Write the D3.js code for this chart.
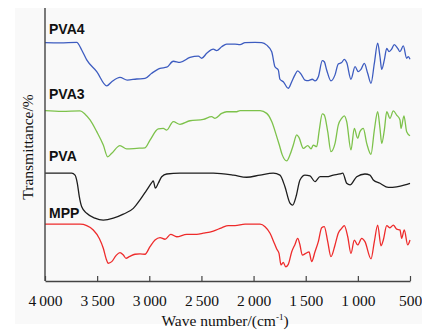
<!DOCTYPE html>
<html>
<head>
<meta charset="utf-8">
<script src="https://cdn.jsdelivr.net/npm/d3@7"></script>
<style>
  body { margin: 0; background: #fff; }
  svg { display: block; }
</style>
</head>
<body>
<div id="viz"></div>
<script>
(function () {
  var width = 422, height = 331;

  // wave number (cm-1) / transmittance (stacked, arbitrary %)
  var pva4Wn = [4000, 3856, 3696, 3648, 3600, 3504, 3408, 3360, 3281, 3211, 3121, 3041, 2977, 2897, 2833, 2770, 2706, 2610, 2530, 2497, 2449, 2386, 2354, 2306, 2258, 2178, 2130, 2082, 1986, 1922, 1874, 1826, 1795, 1763, 1747, 1715, 1667, 1634, 1603, 1577, 1545, 1507, 1475, 1437, 1411, 1379, 1341, 1322, 1299, 1258, 1219, 1188, 1155, 1130, 1107, 1066, 1027, 996, 970, 938, 906, 874, 842, 810, 788, 771, 746, 723, 701, 676, 651, 618, 596, 564, 532, 516, 500];
  var pva4T = [87.3, 87.2, 87.4, 84.6, 81.0, 76.7, 71.5, 73.0, 74.6, 73.6, 74.0, 74.2, 76.1, 77.9, 78.3, 80.5, 80.1, 81.9, 82.4, 81.6, 83.4, 84.9, 84.4, 85.8, 86.8, 86.8, 86.6, 87.3, 87.4, 87.3, 86.4, 84.0, 78.5, 77.3, 73.9, 73.0, 70.6, 73.0, 75.5, 77.0, 75.8, 73.6, 73.4, 73.9, 73.3, 74.8, 80.7, 80.3, 77.3, 73.3, 75.5, 79.5, 80.0, 81.2, 80.0, 73.9, 78.5, 76.7, 77.5, 79.7, 76.1, 72.4, 79.7, 87.1, 82.2, 77.5, 81.0, 85.2, 84.0, 84.9, 86.6, 85.2, 84.0, 86.1, 81.6, 82.2, 81.2];

  var pva3Wn = [4000, 3837, 3664, 3616, 3568, 3504, 3441, 3399, 3360, 3281, 3217, 3121, 3041, 2993, 2914, 2866, 2833, 2770, 2706, 2610, 2482, 2402, 2370, 2306, 2258, 2162, 2130, 1938, 1874, 1826, 1778, 1753, 1725, 1682, 1651, 1619, 1586, 1564, 1523, 1481, 1449, 1427, 1395, 1370, 1341, 1322, 1289, 1258, 1219, 1188, 1155, 1130, 1107, 1066, 1034, 1002, 980, 948, 915, 874, 842, 810, 788, 771, 746, 723, 692, 660, 628, 596, 586, 558, 532, 500];
  var pva3T = [62.4, 62.1, 62.3, 61.1, 59.0, 54.7, 49.8, 45.5, 46.8, 49.6, 48.4, 48.6, 48.8, 51.6, 55.7, 55.9, 55.3, 58.4, 57.4, 58.7, 59.2, 60.2, 59.6, 61.4, 62.0, 62.0, 62.4, 62.4, 61.4, 58.4, 52.9, 49.8, 46.2, 44.0, 46.2, 49.8, 53.5, 52.5, 48.6, 49.6, 48.4, 49.8, 49.2, 55.3, 61.2, 60.8, 54.7, 47.4, 50.4, 57.1, 59.6, 60.5, 58.4, 48.0, 55.9, 52.3, 54.7, 55.9, 50.4, 46.4, 55.3, 62.0, 55.9, 50.4, 55.3, 62.0, 59.6, 62.3, 60.8, 59.0, 55.9, 60.5, 54.7, 53.2];

  var pvaWn = [4000, 3744, 3712, 3690, 3671, 3648, 3600, 3521, 3441, 3345, 3249, 3153, 3089, 3025, 2977, 2962, 2942, 2914, 2881, 2833, 2706, 2386, 2194, 2066, 1938, 1811, 1747, 1699, 1651, 1625, 1593, 1555, 1507, 1459, 1411, 1363, 1299, 1235, 1171, 1145, 1107, 1075, 1011, 932, 884, 852, 788, 708, 628, 548, 500];
  var pvaT = [39.5, 39.5, 38.8, 35.8, 30.9, 27.2, 24.8, 23.0, 22.3, 23.0, 24.5, 26.6, 29.7, 33.3, 36.0, 36.7, 34.0, 35.8, 38.2, 39.2, 39.5, 39.5, 38.8, 38.0, 38.8, 39.5, 38.8, 34.5, 28.5, 27.8, 30.9, 37.0, 38.8, 38.5, 36.4, 38.2, 38.2, 38.8, 39.2, 39.5, 35.8, 35.2, 38.2, 39.2, 38.8, 37.0, 35.8, 34.3, 34.5, 35.2, 35.8];

  var mppWn = [4000, 3664, 3600, 3537, 3479, 3441, 3415, 3393, 3360, 3319, 3281, 3249, 3223, 3192, 3137, 3089, 3041, 2993, 2945, 2897, 2849, 2795, 2737, 2641, 2545, 2482, 2386, 2306, 2242, 2178, 2082, 1938, 1890, 1842, 1801, 1778, 1756, 1737, 1715, 1692, 1667, 1634, 1603, 1577, 1555, 1533, 1500, 1468, 1443, 1411, 1379, 1347, 1322, 1289, 1258, 1219, 1188, 1155, 1130, 1097, 1066, 1034, 1002, 963, 932, 874, 842, 810, 778, 756, 723, 692, 660, 628, 596, 580, 555, 522, 500];
  var mppT = [20.8, 20.8, 20.3, 18.7, 15.6, 12.0, 8.3, 6.5, 7.1, 9.3, 10.4, 9.5, 8.3, 8.9, 9.8, 9.9, 9.8, 12.6, 15.0, 15.9, 15.3, 17.1, 16.2, 17.1, 17.1, 17.5, 18.3, 19.5, 20.3, 20.3, 20.8, 20.8, 19.9, 17.5, 13.8, 11.7, 10.1, 5.9, 6.8, 5.2, 6.1, 10.7, 13.4, 15.6, 13.2, 9.5, 10.1, 10.7, 7.1, 10.7, 14.4, 19.5, 19.9, 14.4, 8.9, 13.2, 17.5, 19.3, 20.3, 16.2, 10.1, 15.0, 13.2, 15.6, 14.4, 8.1, 14.4, 20.5, 12.9, 15.0, 20.3, 19.5, 20.5, 19.0, 18.7, 15.6, 18.7, 13.2, 15.0];

  var seriesNames = ['PVA4', 'PVA3', 'PVA', 'MPP'];
  var seriesColors = ['#3d5cc0', '#7dc24b', '#1e1e1e', '#ee2b2b'];
  var labelValues = [90.5, 66.5, 44, 23];  // label baseline in same units
  var xTicks = [4000, 3500, 3000, 2500, 2000, 1500, 1000, 500];

  var series = [
    {name: seriesNames[0], color: seriesColors[0], wn: pva4Wn, t: pva4T, label: labelValues[0]},
    {name: seriesNames[1], color: seriesColors[1], wn: pva3Wn, t: pva3T, label: labelValues[1]},
    {name: seriesNames[2], color: seriesColors[2], wn: pvaWn, t: pvaT, label: labelValues[2]},
    {name: seriesNames[3], color: seriesColors[3], wn: mppWn, t: mppT, label: labelValues[3]}
  ];

  var svg = d3.select('#viz').append('svg')
    .attr('width', width)
    .attr('height', height);

  // faint grey panel behind the figure
  svg.append('rect')
    .attr('x', 15).attr('y', 8)
    .attr('width', width - 15).attr('height', 316)
    .attr('fill', '#f9f9f9');

  var x = d3.scaleLinear().domain([4000, 500]).range([45, 410]);
  var y = d3.scaleLinear().domain([0, 100]).range([281, 8]);

  var line = d3.line()
    .x(function (d) { return x(d[0]); })
    .y(function (d) { return y(d[1]); })
    .curve(d3.curveMonotoneX);

  series.forEach(function (s) {
    var pts = s.wn.map(function (w, i) { return [w, s.t[i]]; });
    svg.append('path')
      .datum(pts)
      .attr('fill', 'none')
      .attr('stroke', s.color)
      .attr('stroke-width', 1.3)
      .attr('stroke-linejoin', 'round')
      .attr('d', line);

    svg.append('text')
      .attr('x', 49)
      .attr('y', y(s.label))
      .attr('font-family', 'Liberation Sans, Arial, sans-serif')
      .attr('font-weight', 'bold')
      .attr('font-size', 14)
      .attr('fill', '#111')
      .text(s.name);
  });

  var fmt = d3.formatLocale({decimal: '.', thousands: '\u2009', grouping: [3], currency: ['', '']}).format(',');

  var xAxis = d3.axisBottom(x)
    .tickValues(xTicks)
    .tickSizeInner(-5)
    .tickSizeOuter(0)
    .tickPadding(14)
    .tickFormat(fmt);

  var gx = svg.append('g')
    .attr('transform', 'translate(0,' + y(0) + ')')
    .call(xAxis);
  gx.select('.domain').attr('stroke', '#444').attr('stroke-width', 1.4);
  gx.selectAll('.tick line').attr('stroke', '#444').attr('stroke-width', 1.2);
  gx.selectAll('.tick text')
    .attr('font-family', 'Liberation Serif, Times New Roman, serif')
    .attr('font-size', 15.5)
    .attr('fill', '#111');

  // y axis: plain line, no ticks
  svg.append('line')
    .attr('x1', x(4000)).attr('x2', x(4000))
    .attr('y1', y(100)).attr('y2', y(0))
    .attr('stroke', '#444').attr('stroke-width', 1.4);

  var title = svg.append('text')
    .attr('x', 225)
    .attr('y', 326)
    .attr('text-anchor', 'middle')
    .attr('font-family', 'Liberation Serif, Times New Roman, serif')
    .attr('font-size', 15.5)
    .attr('fill', '#111');
  title.append('tspan').text('Wave number/(cm');
  title.append('tspan').attr('dy', -6).attr('font-size', 9).text('-1');
  title.append('tspan').attr('dy', 6).text(')');

  svg.append('text')
    .attr('transform', 'translate(33,147) rotate(-90)')
    .attr('text-anchor', 'middle')
    .attr('font-family', 'Liberation Serif, Times New Roman, serif')
    .attr('font-size', 15.5)
    .attr('fill', '#111')
    .text('Transmittance/%');
})();
</script>
</body>
</html>
